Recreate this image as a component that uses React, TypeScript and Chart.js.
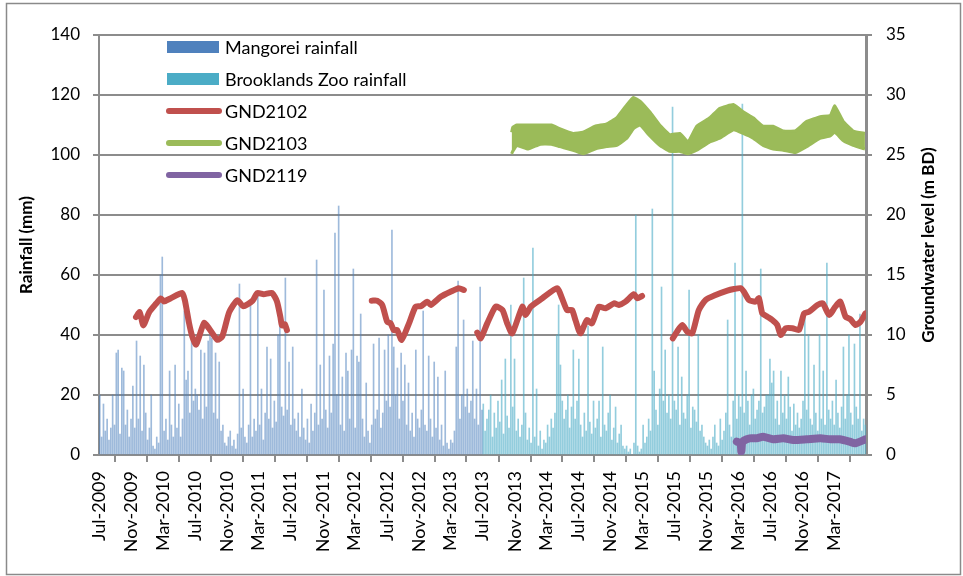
import React, { useEffect, useRef } from 'react';
import { Chart, registerables } from 'chart.js';

Chart.register(...registerables);

// ---------- data ----------
const xTickLabels = [
  'Jul-2009', 'Nov-2009', 'Mar-2010', 'Jul-2010', 'Nov-2010', 'Mar-2011', 'Jul-2011', 'Nov-2011',
  'Mar-2012', 'Jul-2012', 'Nov-2012', 'Mar-2013', 'Jul-2013', 'Nov-2013', 'Mar-2014', 'Jul-2014',
  'Nov-2014', 'Mar-2015', 'Jul-2015', 'Nov-2015', 'Mar-2016', 'Jul-2016', 'Nov-2016', 'Mar-2017', '',
];
const axisStart = '2009-07-01';
const axisEnd = '2017-07-01';

// weekly rainfall (mm), one value per week from the start date
const mangoreiStart = '2009-07-01';
const mangoreiRain = [
  20, 6, 17, 8, 12, 5, 9, 20, 10, 34,
  35, 7, 29, 28, 10, 15, 6, 12, 23, 9,
  38, 12, 33, 8, 30, 14, 5, 9, 20, 3,
  2, 6, 4, 60, 66, 8, 12, 5, 28, 10,
  6, 30, 9, 17, 6, 12, 48, 25, 28, 14,
  41, 18, 22, 20, 15, 35, 12, 34, 16, 38,
  40, 39, 14, 34, 12, 31, 8, 10, 4, 3,
  6, 8, 3, 5, 2, 7, 57, 9, 22, 6,
  4, 10, 50, 6, 12, 8, 54, 10, 22, 5,
  14, 36, 12, 32, 9, 18, 11, 40, 48, 16,
  13, 59, 15, 31, 10, 36, 12, 8, 14, 6,
  22, 9, 5, 12, 4, 17, 8, 14, 65, 10,
  30, 12, 55, 15, 9, 33, 14, 37, 74, 20,
  83, 10, 26, 8, 34, 28, 12, 35, 62, 9,
  33, 31, 47, 12, 6, 24, 8, 4, 10, 37,
  12, 15, 39, 9, 14, 35, 18, 40, 16, 75,
  36, 20, 29, 12, 34, 18, 30, 10, 24, 8,
  14, 6, 35, 12, 9, 15, 48, 10, 8, 33,
  12, 6, 31, 9, 26, 5, 10, 3, 28, 4,
  2, 5, 4, 8, 36, 58, 12, 20, 45, 16,
  22, 14, 18, 38, 12, 22, 10, 56, 15,
];

const brooklandsStart = '2013-07-01';
const brooklandsRain = [
  17, 8, 12, 15, 20, 6, 14, 9, 18, 11,
  25, 7, 32, 13, 9, 50, 16, 32, 8, 12,
  6, 10, 59, 14, 5, 9, 4, 69, 6, 22,
  3, 8, 2, 5, 4, 10, 6, 12, 9, 14,
  40, 50, 30, 18, 12, 15, 20, 9, 16, 35,
  12, 18, 32, 10, 6, 14, 8, 43, 11, 7,
  18, 9, 12, 18, 6, 36, 10, 8, 14, 20,
  5, 9, 16, 4, 7, 10, 3, 2, 3, 1,
  2, 0, 4, 80, 3, 1, 2, 10, 4, 6,
  12, 8, 82, 28, 15, 10, 22, 56, 18, 35,
  14, 20, 12, 116, 18, 15, 36, 10, 26, 14,
  12, 20, 55, 9, 16, 15, 11, 40, 8, 10,
  6, 4, 3, 5, 2, 6, 10, 4, 3, 12,
  5, 8, 14, 45, 10, 6, 18, 64, 12, 20,
  16, 117, 14, 28, 18, 10, 20, 22, 12, 15,
  18, 62, 14, 16, 20, 20, 32, 24, 28, 12,
  18, 10, 28, 14, 20, 12, 26, 16, 8, 17,
  10, 14, 9, 12, 18, 47, 15, 40, 12, 10,
  30, 14, 8, 40, 12, 28, 10, 64, 15, 12,
  18, 10, 25, 14, 9, 16, 36, 12, 20, 40,
  14, 10, 37, 16, 12, 47, 8, 12, 10,
];

// groundwater level (m BD); null breaks the line
const gnd2102Dates = [
  '2009-11-19', '2009-12-03', '2009-12-17', '2010-01-08', '2010-02-03', '2010-02-22', '2010-03-05',
  '2010-03-30', '2010-05-14', '2010-05-24', '2010-06-09', '2010-06-21', '2010-07-06', '2010-08-05',
  '2010-08-24', '2010-09-25', '2010-10-14', '2010-11-09', '2010-12-10', '2011-01-01', '2011-02-06',
  '2011-02-24', '2011-03-20', '2011-04-21', '2011-05-10', '2011-05-23', '2011-05-29', '2011-06-09',
  '2011-06-17', '2011-12-01',
  '2012-05-05', '2012-05-26', '2012-06-14', '2012-07-03', '2012-07-16', '2012-07-28', '2012-08-10',
  '2012-08-27', '2012-09-24', '2012-10-19', '2012-11-08', '2012-12-03', '2012-12-16', '2013-01-24',
  '2013-03-01', '2013-04-02', '2013-04-21', '2013-05-15',
  '2013-06-11', '2013-06-24', '2013-07-19', '2013-08-20', '2013-09-15', '2013-10-03', '2013-10-22',
  '2013-11-30', '2013-12-12', '2014-01-01', '2014-02-14', '2014-04-11', '2014-04-30', '2014-05-19',
  '2014-06-07', '2014-06-20', '2014-07-09', '2014-08-03', '2014-08-22', '2014-09-17', '2014-10-13',
  '2014-11-14', '2014-12-02', '2014-12-28', '2015-01-29', '2015-02-11', '2015-03-01', '2015-04-15',
  '2015-06-26', '2015-07-12', '2015-08-01', '2015-08-20', '2015-09-08', '2015-10-03', '2015-10-29',
  '2015-12-06', '2016-01-20', '2016-02-14', '2016-03-10', '2016-03-23', '2016-04-11', '2016-05-06',
  '2016-05-19', '2016-06-01', '2016-06-20', '2016-07-09', '2016-07-28', '2016-08-10', '2016-08-29',
  '2016-09-24', '2016-10-19', '2016-11-07', '2016-11-26', '2016-12-28', '2017-01-17', '2017-02-11',
  '2017-03-06', '2017-03-25', '2017-04-14', '2017-05-03', '2017-05-22', '2017-06-10', '2017-06-29',
];
const gnd2102Level = [
  11.5, 11.9, 10.8, 11.9, 12.6, 13.05, 12.8,
  13.05, 13.5, 12.9, 11.0, 9.9, 9.2, 11.0,
  10.55, 9.6, 9.9, 11.9, 12.9, 12.4, 12.85,
  13.5, 13.4, 13.5, 12.8, 11.5, 10.8, 10.9,
  10.4, null,
  12.86, 12.86, 12.5, 11.1, 10.97, 10.4, 10.4,
  9.6, 10.97, 12.36, 12.4, 12.78, 12.5, 13.2,
  13.6, 13.9, 13.75, null,
  10.2, 9.72, 10.97, 12.36, 12.08, 10.97, 10.14,
  12.36, 11.67, 12.36, 13.06, 13.9, 13.06, 12.08,
  12.08, 11.25, 10.14, 11.25, 10.97, 12.36, 12.22,
  12.64, 12.5, 12.78, 13.4, 13.06, 13.25, null,
  9.72, 10.28, 10.83, 10.28, 10.14, 12.08, 12.92,
  13.33, 13.7, 13.83, 13.9, 13.6, 12.92, 12.78,
  13.06, 11.8, 11.53, 11.25, 10.83, 10.0, 10.56,
  10.56, 10.42, 11.8, 11.94, 12.5, 12.64, 11.67,
  12.36, 12.78, 11.53, 11.3, 10.83, 11.1, 11.8,
];

const gnd2103Dates = [
  '2013-10-20', '2013-10-24', '2013-11-09', '2013-12-22', '2014-02-06', '2014-03-21', '2014-04-21', '2014-06-11',
  '2014-07-19', '2014-09-03', '2014-10-17', '2014-11-24', '2015-01-02', '2015-01-27', '2015-02-21',
  '2015-03-30', '2015-05-07', '2015-06-14', '2015-07-23', '2015-08-23', '2015-09-25', '2015-11-14',
  '2015-12-22', '2016-02-12', '2016-03-20', '2016-04-27', '2016-06-04', '2016-07-12', '2016-08-20',
  '2016-10-04', '2016-11-17', '2017-01-08', '2017-02-15', '2017-03-04', '2017-04-05', '2017-05-13',
  '2017-06-27',
];
const gnd2103High = [
  26.9, 27.3, 27.5, 27.5, 27.5, 27.5, 27.2, 26.8,
  26.9, 27.4, 27.6, 28.1, 29.2, 29.8, 29.5,
  28.6, 27.5, 26.7, 26.8, 26.1, 27.4, 28.1,
  28.9, 29.2, 28.6, 28.1, 27.4, 27.4, 27.0,
  27.0, 27.8, 28.2, 28.3, 29.1, 27.8, 27.0,
  26.8,
];
const gnd2103Low = [
  25.1, 25.3, 25.8, 25.5, 25.9, 25.9, 25.7, 25.4,
  25.1, 25.5, 25.7, 25.8, 26.4, 27.2, 27.5,
  26.6, 25.8, 25.3, 25.3, 25.1, 25.4, 26.1,
  26.4, 27.1, 26.8, 26.4, 25.8, 25.5, 25.4,
  25.2, 25.7, 26.4, 26.6, 26.9, 26.2, 25.8,
  25.5,
];

const gnd2119Dates = [
  '2016-02-25', '2016-03-10', '2016-03-13', '2016-03-16', '2016-03-22', '2016-04-14', '2016-05-10',
  '2016-06-04', '2016-07-12', '2016-08-20', '2016-09-27', '2016-11-17', '2017-01-08', '2017-02-15',
  '2017-03-23', '2017-04-30', '2017-05-20', '2017-06-29',
];
const gnd2119Level = [
  1.11, 0.97, 0.28, 1.0, 1.19, 1.39, 1.39,
  1.53, 1.31, 1.39, 1.25, 1.31, 1.39, 1.31,
  1.31, 1.11, 0.97, 1.31,
];

// ---------- helpers ----------
const MONTHS = ['Jan', 'Feb', 'Mar', 'Apr', 'May', 'Jun', 'Jul', 'Aug', 'Sep', 'Oct', 'Nov', 'Dec'];
const ORIGIN = Date.UTC(2009, 6, 1);
const dayOf = (s: string) => {
  const [y, m, d] = s.split('-').map(Number);
  return (Date.UTC(y, m - 1, d || 1) - ORIGIN) / 86400000;
};
const labelDay = (lab: string) => {
  if (!lab) return dayOf(axisEnd);
  const [mon, yr] = lab.split('-');
  return (Date.UTC(Number(yr), MONTHS.indexOf(mon), 1) - ORIGIN) / 86400000;
};
const tickDays = xTickLabels.map(labelDay);
const weekly = (start: string, vals: number[]) =>
  vals.map((v, i) => ({ x: dayOf(start) + i * 7 + 3, y: v }));
const series = (dates: string[], vals: (number | null)[]) =>
  dates.map((d, i) => ({ x: dayOf(d), y: vals[i] }));

const FONT = 'Lato, "Open Sans", "DejaVu Sans", sans-serif';
const GRID = '#8c8c8c';

const decor = {
  id: 'decor',
  beforeDraw(chart: any) {
    const ctx = chart.ctx;
    ctx.save();
    ctx.fillStyle = '#ffffff';
    ctx.fillRect(0, 0, chart.width, chart.height);
    ctx.restore();
  },
  afterDraw(chart: any) {
    const ctx = chart.ctx;
    ctx.save();
    // outer frame
    ctx.strokeStyle = '#8a8a8a';
    ctx.lineWidth = 1.5;
    ctx.strokeRect(6.5, 3.5, 954, 571);
    // axis titles
    const area = chart.chartArea;
    const midY = (area.top + area.bottom) / 2;
    ctx.fillStyle = '#000';
    ctx.font = `bold 17px ${FONT}`;
    ctx.textAlign = 'center';
    ctx.textBaseline = 'middle';
    ctx.save();
    ctx.translate(27, midY);
    ctx.rotate(-Math.PI / 2);
    ctx.fillText('Rainfall (mm)', 0, 0);
    ctx.restore();
    ctx.save();
    ctx.translate(929, midY);
    ctx.rotate(-Math.PI / 2);
    ctx.fillText('Groundwater level (m BD)', 0, 0);
    ctx.restore();
    // legend
    const items = chart.data.datasets.filter((d: any) => !d.hideInLegend);
    ctx.font = `18px ${FONT}`;
    ctx.textAlign = 'left';
    items.forEach((d: any, i: number) => {
      const cy = 47 + i * 32;
      if (d.type === 'bar') {
        ctx.fillStyle = d.legendColor;
        ctx.fillRect(167, cy - 6, 52, 12);
      } else {
        ctx.strokeStyle = d.borderColor;
        ctx.lineWidth = 6;
        ctx.lineCap = 'round';
        ctx.beginPath();
        ctx.moveTo(169, cy);
        ctx.lineTo(219, cy);
        ctx.stroke();
      }
      ctx.fillStyle = '#000';
      ctx.fillText(d.label, 225, cy + 1);
    });
    ctx.restore();
  },
};

export default function App() {
  const ref = useRef<HTMLCanvasElement>(null);
  useEffect(() => {
    const tickFont = { family: FONT, size: 17 };
    const chart = new Chart(ref.current as HTMLCanvasElement, {
      type: 'bar',
      data: {
        datasets: [
          {
            type: 'bar',
            label: 'Mangorei rainfall',
            data: weekly(mangoreiStart, mangoreiRain),
            backgroundColor: 'rgba(79,129,189,0.55)',
            legendColor: '#4F81BD',
            barThickness: 1,
            grouped: false,
            yAxisID: 'y',
            order: 2,
          } as any,
          {
            type: 'bar',
            label: 'Brooklands Zoo rainfall',
            data: weekly(brooklandsStart, brooklandsRain),
            backgroundColor: 'rgba(75,172,198,0.6)',
            legendColor: '#4BACC6',
            barThickness: 1,
            grouped: false,
            yAxisID: 'y',
            order: 2,
          } as any,
          {
            type: 'line',
            label: 'GND2102',
            data: series(gnd2102Dates, gnd2102Level),
            borderColor: '#C0504D',
            borderWidth: 6,
            borderCapStyle: 'round',
            borderJoinStyle: 'round',
            pointRadius: 0,
            tension: 0.2,
            spanGaps: false,
            yAxisID: 'y2',
            order: 0,
          } as any,
          {
            type: 'line',
            label: 'GND2103',
            data: series(gnd2103Dates, gnd2103High),
            borderColor: '#9BBB59',
            backgroundColor: '#9BBB59',
            borderWidth: 3,
            borderJoinStyle: 'round',
            pointRadius: 0,
            tension: 0.1,
            fill: '+1',
            yAxisID: 'y2',
            order: 0,
          } as any,
          {
            type: 'line',
            label: 'GND2103 low',
            hideInLegend: true,
            data: series(gnd2103Dates, gnd2103Low),
            borderColor: '#9BBB59',
            borderWidth: 3,
            borderJoinStyle: 'round',
            pointRadius: 0,
            tension: 0.1,
            fill: false,
            yAxisID: 'y2',
            order: 0,
          } as any,
          {
            type: 'line',
            label: 'GND2119',
            data: series(gnd2119Dates, gnd2119Level),
            borderColor: '#8064A2',
            borderWidth: 8,
            borderCapStyle: 'round',
            borderJoinStyle: 'round',
            pointRadius: 0,
            tension: 0.2,
            yAxisID: 'y2',
            order: 0,
          } as any,
        ],
      },
      options: {
        responsive: false,
        animation: false,
        devicePixelRatio: 1,
        layout: { padding: { top: 35, left: 0, right: 0, bottom: 0 } },
        plugins: { legend: { display: false }, tooltip: { enabled: false } },
        scales: {
          x: {
            type: 'linear',
            min: dayOf(axisStart),
            max: dayOf(axisEnd),
            offset: false,
            grid: { drawOnChartArea: false, color: GRID, lineWidth: 2, tickLength: 7 },
            border: { color: GRID, width: 2 },
            ticks: {
              autoSkip: false,
              minRotation: 90,
              maxRotation: 90,
              padding: 9,
              color: '#000',
              font: { family: FONT, size: 18 },
              callback: (_v: any, i: number) => xTickLabels[i] ?? '',
            },
            afterBuildTicks: (s: any) => {
              s.ticks = tickDays.map((v) => ({ value: v }));
            },
            afterFit: (s: any) => {
              s.height = 121;
            },
          },
          y: {
            position: 'left',
            min: 0,
            max: 140,
            ticks: { stepSize: 20, color: '#000', font: tickFont, padding: 13 },
            grid: { color: GRID, lineWidth: 2, tickLength: 6 },
            border: { color: GRID, width: 2 },
            afterFit: (s: any) => {
              s.width = 99;
            },
          },
          y2: {
            position: 'right',
            min: 0,
            max: 35,
            ticks: { stepSize: 5, color: '#000', font: tickFont, padding: 14 },
            grid: { drawOnChartArea: false, color: GRID, lineWidth: 2, tickLength: 6 },
            border: { color: GRID, width: 3 },
            afterFit: (s: any) => {
              s.width = 97;
            },
          },
        },
      } as any,
      plugins: [decor],
    });
    return () => chart.destroy();
  }, []);
  return (
    <div style={{ position: 'absolute', left: 0, top: 0, width: 963, height: 576, background: '#fff' }}>
      <canvas ref={ref} width={963} height={576} style={{ display: 'block', width: 963, height: 576 }} />
    </div>
  );
}
